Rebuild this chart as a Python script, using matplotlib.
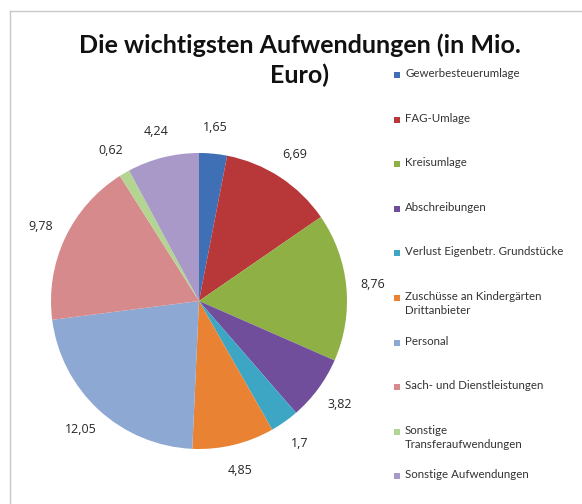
import matplotlib
matplotlib.use("Agg")
import matplotlib.pyplot as plt
import numpy as np
from matplotlib.patches import Rectangle
from matplotlib.lines import Line2D

categories = [
    "Gewerbesteuerumlage",
    "FAG-Umlage",
    "Kreisumlage",
    "Abschreibungen",
    "Verlust Eigenbetr. Grundstücke",
    "Zuschüsse an Kindergärten\nDrittanbieter",
    "Personal",
    "Sach- und Dienstleistungen",
    "Sonstige\nTransferaufwendungen",
    "Sonstige Aufwendungen",
]
values = [1.65, 6.69, 8.76, 3.82, 1.7, 4.85, 12.05, 9.78, 0.62, 4.24]
value_labels = ["1,65", "6,69", "8,76", "3,82", "1,7", "4,85", "12,05", "9,78", "0,62", "4,24"]
colors = ['#3F6FB5', '#B8383A', '#8EB045', '#704E9C', '#3DA6C4',
          '#E98333', '#8EA8D4', '#D68A8C', '#B3D591', '#A899C8']
title_lines = ["Die wichtigsten Aufwendungen (in Mio.", "Euro)"]

W, H = 582, 504
fig = plt.figure(figsize=(W / 100, H / 100), dpi=100)

# chart frame
fig.add_artist(Line2D([10 / W, 1], [1 - 10.5 / H, 1 - 10.5 / H], color='#c8c8c8', lw=1))
fig.add_artist(Line2D([10.5 / W, 10.5 / W], [0, 1 - 10.5 / H], color='#c8c8c8', lw=1))

cx, cy, r = 199, 301, 148
ax = fig.add_axes([(cx - r) / W, (H - cy - r) / H, 2 * r / W, 2 * r / H])
wedges, texts = ax.pie(values, colors=colors, startangle=90, counterclock=False,
                       labels=value_labels, labeldistance=1.18,
                       textprops=dict(fontsize=9, color='#262626', family='Open Sans'),
                       wedgeprops=dict(linewidth=0))
for t in texts:
    t.set_ha('center')
    t.set_va('center')
ax.set_xlim(-1, 1)
ax.set_ylim(-1, 1)
ax.set_aspect('equal')
ax.axis('off')

for i, line in enumerate(title_lines):
    fig.text(300 / W, 1 - (45 + 30 * i) / H, line, ha='center', va='center', fontsize=18,
             fontweight='bold', family='Lato', color='#111111')

# legend
lx = 397
y0 = 75
dy = 44.6
for i, (lab, w) in enumerate(zip(categories, wedges)):
    y = y0 + dy * i
    fig.add_artist(Rectangle(((lx - 3) / W, 1 - (y + 3) / H), 6 / W, 6 / H,
                             facecolor=w.get_facecolor(), edgecolor='none'))
    fig.text((lx + 8) / W, 1 - (y - 7) / H, lab, ha='left', va='top', fontsize=8.3,
             family='Lato', color='#333333', linespacing=1.35)

fig.savefig("out.png", dpi=100)
